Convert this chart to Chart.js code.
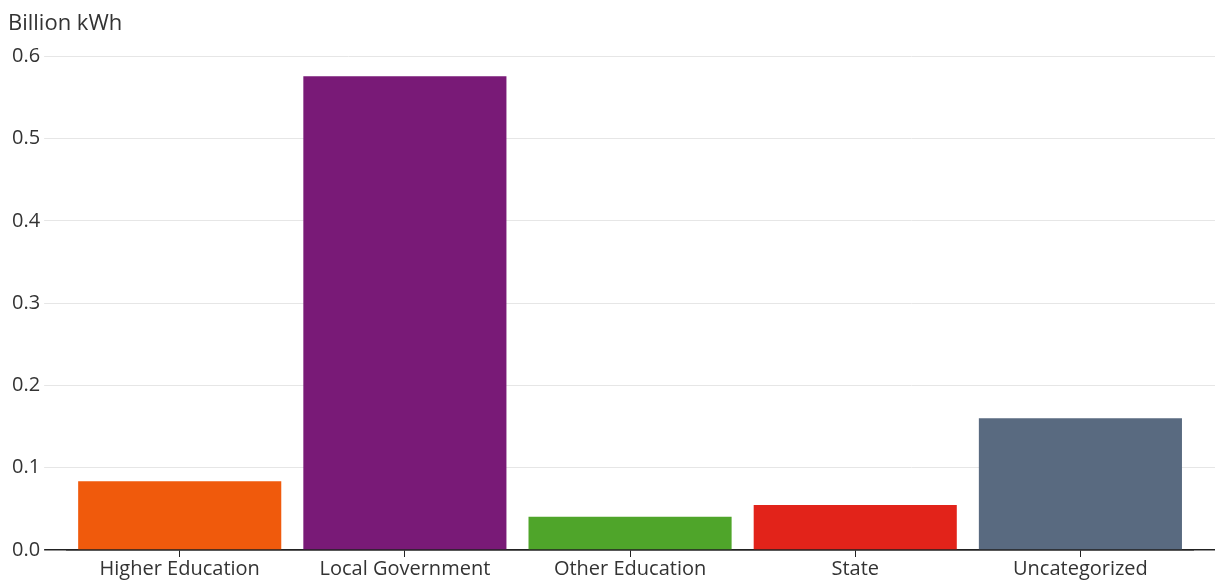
<!DOCTYPE html>
<html>
<head>
<meta charset="utf-8">
<script src="https://cdn.jsdelivr.net/npm/chart.js@4"></script>
<style>
  body { margin: 0; background: #fff; }
  #wrap { width: 1225px; height: 581px; position: relative; }
</style>
</head>
<body>
<div id="wrap"><canvas id="myChart"></canvas></div>
<script>
// categories and values (billion kWh)
var categories = ["Higher Education", "Local Government", "Other Education", "State", "Uncategorized"];
var values = [0.0835, 0.576, 0.0405, 0.0547, 0.160];
var barColors = ["#F05A0C", "#791A77", "#4FA52A", "#E2231A", "#596A80"];
var yTicks = [0, 0.1, 0.2, 0.3, 0.4, 0.5, 0.6];

var textColor = "#333333";
var axisColor = "#222222";
var gridColor = "#e6e6e6";
var fontFamily = "'Open Sans', 'Noto Sans', sans-serif";

// zero line dark, others light (also used for the tick stubs outside the plot)
function gridLineColor(ctx) {
  return ctx.tick && ctx.tick.value === 0 ? axisColor : gridColor;
}
function gridLineWidth(ctx) {
  return ctx.tick && ctx.tick.value === 0 ? 1.5 : 1;
}
function setTicks(axis) {
  axis.ticks = yTicks.map(function (v) { return { value: v }; });
}

new Chart("myChart", {
  type: "bar",
  data: {
    labels: categories,
    datasets: [{
      data: values,
      backgroundColor: barColors,
      borderWidth: 0,
      barPercentage: 0.902,
      categoryPercentage: 1
    }]
  },
  options: {
    responsive: true,
    maintainAspectRatio: false,
    animation: false,
    layout: { padding: { left: 8, right: 10, top: 5, bottom: 0 } },
    plugins: {
      legend: { display: false },
      tooltip: { enabled: false },
      title: {
        display: true,
        text: "Billion kWh",
        align: "start",
        color: textColor,
        font: { family: fontFamily, size: 22, weight: "normal" },
        padding: { top: 6, bottom: 19 }
      }
    },
    scales: {
      x: {
        offset: true,
        grid: {
          offset: false,
          drawOnChartArea: false,
          drawTicks: true,
          tickLength: 7,
          color: axisColor
        },
        border: { display: true, color: axisColor, width: 1.5 },
        ticks: {
          autoSkip: false,
          maxRotation: 0,
          padding: 0,
          color: textColor,
          font: { family: fontFamily, size: 20 }
        }
      },
      y: {
        min: 0,
        max: 0.6,
        afterBuildTicks: setTicks,
        grid: { color: gridLineColor, lineWidth: gridLineWidth, drawTicks: true, tickLength: 23 },
        border: { display: false },
        ticks: {
          padding: 4,
          color: textColor,
          font: { family: fontFamily, size: 20 },
          callback: function (v) { return v.toFixed(1); }
        }
      },
      y1: {
        position: "right",
        min: 0,
        max: 0.6,
        afterBuildTicks: setTicks,
        grid: { color: gridLineColor, lineWidth: gridLineWidth, drawOnChartArea: false, drawTicks: true, tickLength: 22 },
        border: { display: false },
        ticks: { display: false }
      }
    }
  }
});
</script>
</body>
</html>
